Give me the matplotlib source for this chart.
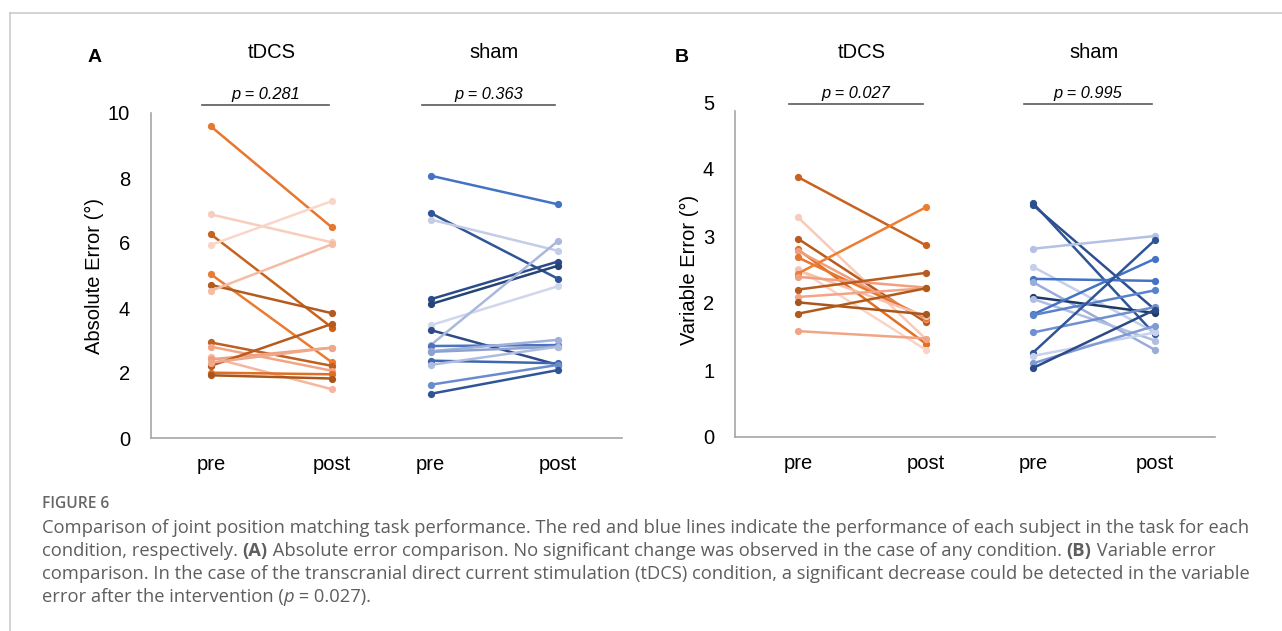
import matplotlib
matplotlib.use("Agg")
import matplotlib.pyplot as plt
from matplotlib.lines import Line2D
from matplotlib.transforms import blended_transform_factory

# Data, one entry per subject
abs_tdcs_pre = [9.59, 6.88, 6.27, 5.94, 5.04, 4.71, 4.53, 2.94, 2.81, 2.48, 2.42, 2.22, 2.32, 2.01, 1.93]
abs_tdcs_post = [6.48, 6.02, 3.40, 7.29, 2.33, 3.84, 5.96, 2.22, 2.07, 1.50, 2.78, 3.51, 2.78, 1.96, 1.83]
abs_sham_pre = [8.07, 6.92, 6.72, 4.27, 4.12, 3.47, 3.32, 2.86, 2.83, 2.67, 2.65, 2.38, 2.25, 1.64, 1.36]
abs_sham_post = [7.19, 4.90, 5.76, 5.43, 5.30, 4.67, 2.25, 6.06, 2.86, 3.02, 2.81, 2.30, 2.81, 2.25, 2.09]

var_tdcs_pre = [3.88, 3.28, 2.96, 2.80, 2.78, 2.68, 2.51, 2.49, 2.44, 2.39, 2.20, 2.09, 2.01, 1.84, 1.58]
var_tdcs_post = [2.86, 1.46, 1.71, 1.39, 1.76, 1.78, 1.30, 1.80, 3.43, 2.23, 2.45, 2.22, 1.83, 2.22, 1.47]
var_sham_pre = [3.49, 3.46, 2.81, 2.54, 2.36, 2.31, 2.09, 2.06, 1.83, 1.82, 1.56, 1.26, 1.21, 1.10, 1.03]
var_sham_post = [1.53, 1.90, 3.00, 1.56, 2.33, 1.30, 1.85, 1.44, 2.66, 2.19, 1.94, 2.94, 1.56, 1.66, 1.90]

groups = ["tDCS", "sham"]
tick_labels = ["pre", "post", "pre", "post"]
p_abs = ["p = 0.281", "p = 0.363"]
p_var = ["p = 0.027", "p = 0.995"]

# colour per subject line
oranges_abs = ["#E8772E", "#F8CDBD", "#C8631E", "#F9D6C8", "#EB7B30", "#B35A1E", "#F5BCA4",
               "#BF5F22", "#F2A585", "#F5B7A0", "#EFA080", "#B85A1C", "#F0A88A", "#E06F22", "#A9561C"]
blues_abs = ["#4472C4", "#2F5597", "#C5CCE6", "#2B4C8C", "#264478", "#D0D6EC", "#2E4A87",
             "#A9B8DD", "#4A74C0", "#9FB0DA", "#8EA2D2", "#3F66B0", "#AEBCE0", "#6A8CCF", "#2F5597"]
oranges_var = ["#C8621E", "#F8CBB8", "#B85B1E", "#E26F24", "#F0A080", "#E8772E", "#F9D3C4",
               "#F6C2AE", "#ED7D31", "#F0A080", "#B85B1E", "#F2A585", "#A9561C", "#B05A1A", "#F2A585"]
blues_var = ["#2F5597", "#2E4F8F", "#B4C0E4", "#C5CEEA", "#4472C4", "#9AACD8", "#203864",
             "#B0BEE2", "#4472C4", "#5A82CC", "#6E8FD0", "#2F5597", "#C9D2EC", "#7F9BD5", "#2B4A86"]

W, H = 1282, 631
fig = plt.figure(figsize=(W / 100, H / 100), dpi=100)
plt.rcParams["font.family"] = ["Liberation Sans", "DejaVu Sans"]


def fx(px):
    return px / W


def fy(py):
    return 1 - py / H


def panel(rect, xpos, pre_t, post_t, pre_s, post_s, col_t, col_s, ymax, ystep,
          ylabel, pvals, pline_y, letter, letter_x, spine_top):
    ax = fig.add_axes(rect)
    for a, b, c in zip(pre_t, post_t, col_t):
        ax.plot(xpos[:2], [a, b], "-o", color=c, lw=1.8, ms=4.2, clip_on=False)
    for a, b, c in zip(pre_s, post_s, col_s):
        ax.plot(xpos[2:], [a, b], "-o", color=c, lw=1.8, ms=4.2, clip_on=False)
    ax.set_xlim(0, 1)
    ax.set_ylim(0, ymax)
    ax.set_yticks([i * ystep for i in range(int(ymax / ystep) + 1)])
    ax.set_xticks(xpos)
    ax.set_xticklabels(tick_labels)
    ax.tick_params(length=0, labelsize=14.5, colors="black")
    ax.tick_params(axis="y", pad=15)
    ax.tick_params(axis="x", pad=12)
    for s in ["top", "right"]:
        ax.spines[s].set_visible(False)
    for s in ["left", "bottom"]:
        ax.spines[s].set_color("#A6A6A6")
        ax.spines[s].set_linewidth(1.2)
    ax.spines["left"].set_bounds(0, spine_top)
    ax.set_ylabel(ylabel, fontsize=14.5, labelpad=3)

    tr = blended_transform_factory(ax.transData, fig.transFigure)
    tra = blended_transform_factory(ax.transData, ax.transAxes)
    for i, g in enumerate(groups):
        x0, x1 = xpos[2 * i], xpos[2 * i + 1]
        ax.text((x0 + x1) / 2, fy(53), g, transform=tr, ha="center", va="center", fontsize=14.5)
        ax.plot([x0 - 0.018, x1 - 0.006], [pline_y, pline_y], color="#595959", lw=1.2,
                transform=tra, clip_on=False)
        ax.text((x0 + x1) / 2 - 0.012, pline_y + 0.008, pvals[i], transform=tra, ha="center",
                va="bottom", fontsize=11.8, style="italic")
    fig.text(fx(letter_x), fy(57), letter, fontsize=14, fontweight="bold", ha="center", va="center")
    return ax


panel([fx(151), fy(438), fx(622) - fx(151), fy(113) - fy(438)],
      [0.127, 0.384, 0.594, 0.864],
      abs_tdcs_pre, abs_tdcs_post, abs_sham_pre, abs_sham_post, oranges_abs, blues_abs,
      10, 2, "Absolute Error (°)", p_abs, 1.0246, "A", 95, 10)

panel([fx(735), fy(437), fx(1215) - fx(735), fy(102) - fy(437)],
      [0.131, 0.398, 0.621, 0.875],
      var_tdcs_pre, var_tdcs_post, var_sham_pre, var_sham_post, oranges_var, blues_var,
      5, 1, "Variable Error (°)", p_var, 0.994, "B", 682, 4.86)

# frame around the figure block
fig.add_artist(Line2D([fx(10), 1], [fy(13), fy(13)], color="#CCCCCC", lw=1.2))
fig.add_artist(Line2D([fx(10), fx(10)], [fy(13), 0], color="#CCCCCC", lw=1.2))

# caption
cap_font = ["Open Sans", "DejaVu Sans"]
cap_col = "#5E5E5E"
cap_size = 13.2
renderer = fig.canvas.get_renderer()


def text_width(s, **kw):
    t = fig.text(0, 0, s + "|", **kw)
    w1 = t.get_window_extent(renderer).width
    t.remove()
    t = fig.text(0, 0, "|", **kw)
    w2 = t.get_window_extent(renderer).width
    t.remove()
    return w1 - w2


def runs(px, py, parts):
    x = px
    for s, kw in parts:
        style = dict(family=cap_font, fontsize=cap_size, color=cap_col)
        style.update(kw)
        fig.text(fx(x), fy(py), s, va="center", ha="left", **style)
        x += text_width(s, **style)


fig.text(fx(42), fy(504), "FIGURE 6", family=cap_font, fontsize=11.2, color="#666666",
         fontweight="semibold", va="center")
R = {}
B = {"fontweight": "bold"}
runs(42, 528, [("Comparison of joint position matching task performance. The red and blue lines "
                "indicate the performance of each subject in the task for each", R)])
runs(42, 551, [("condition, respectively. ", R), ("(A)", B),
               (" Absolute error comparison. No significant change was observed in the case of any "
                "condition. ", R), ("(B)", B), (" Variable error", R)])
runs(42, 574, [("comparison. In the case of the transcranial direct current stimulation (tDCS) "
                "condition, a significant decrease could be detected in the variable", R)])
runs(42, 597, [("error after the intervention (", R), ("p", {"style": "italic"}), (" = 0.027).", R)])

fig.savefig("out.png", dpi=100)
